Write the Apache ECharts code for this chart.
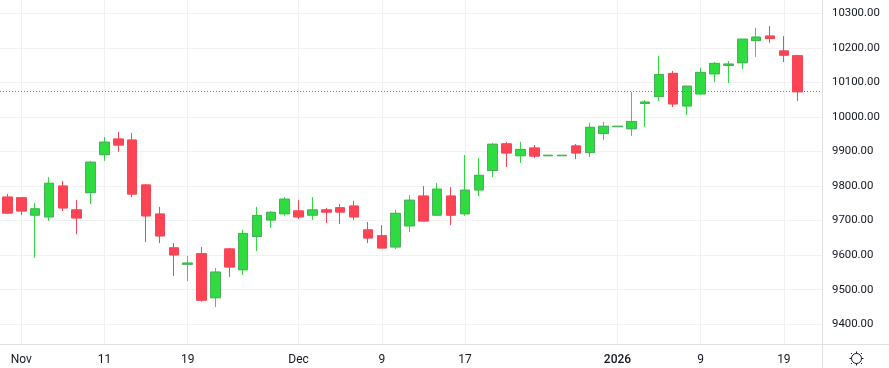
<!DOCTYPE html>
<html>
<head>
<meta charset="utf-8">
<style>
	html, body { margin: 0; padding: 0; background: #fff; }
	#chart { width: 889px; height: 368px; }
</style>
<script src="https://cdn.jsdelivr.net/npm/echarts@6/dist/echarts.min.js"></script>
</head>
<body>
<div id="chart"></div>
<script>
var dates = ['10-31','11-03','11-04','11-05','11-06','11-07','11-10','11-11','11-12','11-13','11-14','11-17','11-18','11-19','11-20','11-21','11-24','11-25','11-26','11-27','11-28','12-01','12-02','12-03','12-04','12-05','12-08','12-09','12-10','12-11','12-12','12-15','12-16','12-17','12-18','12-19','12-22','12-23','12-24','12-25','12-26','12-29','12-30','12-31','01-01','01-02','01-05','01-06','01-07','01-08','01-09','01-12','01-13','01-14','01-15','01-16','01-19','01-20'];
var opens = [9768,9766,9716,9711,9800,9731,9781,9891,9936,9933,9803,9719,9621,9574,9604,9477,9618,9558,9654,9702,9720,9728,9716,9731,9737,9742,9673,9656,9624,9685,9771,9716,9771,9720,9789,9845,9922,9888,9910,9888,9888,9916,9897,9952,9972,9966,10039,10059,10126,10032,10067,10125,10149,10157,10221,10234,10191,10177];
var closes = [9722,9728,9734,9808,9737,9708,9869,9927,9919,9777,9714,9656,9601,9577,9470,9551,9566,9663,9715,9724,9762,9711,9731,9725,9725,9711,9650,9621,9721,9759,9699,9791,9716,9788,9831,9921,9896,9906,9887,9889,9889,9896,9970,9973,9973,9987,10043,10123,10038,10089,10129,10155,10153,10225,10231,10227,10179,10073];
var lows = [9721,9716,9592,9699,9728,9661,9748,9873,9899,9768,9638,9635,9540,9525,9465,9450,9537,9543,9612,9679,9714,9705,9702,9693,9690,9702,9635,9620,9618,9667,9698,9714,9687,9714,9771,9826,9855,9867,9881,9888,9888,9878,9884,9933,9972,9945,9971,10046,10029,10006,10064,10101,10098,10139,10174,10214,10159,10046];
var highs = [9777,9768,9751,9826,9815,9760,9873,9942,9957,9954,9806,9740,9635,9598,9624,9563,9621,9673,9740,9728,9768,9760,9768,9737,9748,9757,9696,9687,9731,9774,9800,9809,9797,9890,9881,9925,9928,9928,9919,9889,9889,9922,9983,9986,9973,10072,10049,10177,10133,10090,10142,10159,10162,10226,10258,10263,10234,10177];

var xTickDates = ['11-03','11-11','11-19','12-01','12-09','12-17','01-01','01-09','01-19'];
var xTickLabels = ['Nov','11','19','Dec','9','17','2026','9','19'];
var yTicks = [9400,9500,9600,9700,9800,9900,10000,10100,10200,10300];
var lastPrice = 10073;

var green = '#2fdc40', greenEdge = '#4caf5c', red = '#fc4554';
var gridColor = '#f1f1f3', edgeColor = '#e0e1e5', textColor = '#131722';

var xTicks = xTickDates.map(function (d) { return dates.indexOf(d); });

// full candle, its border colour is only seen on the wick
var wickData = dates.map(function (d, i) {
	return [i, opens[i], closes[i], lows[i], highs[i]];
});
// same candle without a wick, on top, for the darker green outline
var bodyData = dates.map(function (d, i) {
	return [i, opens[i], closes[i], Math.min(opens[i], closes[i]), Math.max(opens[i], closes[i])];
});

// small sun icon in the bottom right corner
function iconLine(x1, y1, x2, y2) {
	return { type: 'line', silent: true, shape: { x1: x1, y1: y1, x2: x2, y2: y2 }, style: { stroke: textColor, lineWidth: 1 } };
}

var chart = echarts.init(document.getElementById('chart'));
chart.setOption({
	backgroundColor: '#fff',
	animation: false,
	grid: { left: 0, top: 0, width: 822, height: 344 },
	xAxis: {
		type: 'value',
		min: -0.534,
		max: 58.75,
		axisLine: { show: true, onZero: false, lineStyle: { color: edgeColor, width: 1 } },
		axisTick: { show: false, customValues: xTicks },
		splitLine: { show: true, lineStyle: { color: gridColor, width: 1 } },
		axisLabel: {
			customValues: xTicks,
			hideOverlap: false,
			showMinLabel: true,
			showMaxLabel: true,
			margin: 10,
			color: textColor,
			fontFamily: 'Roboto',
			fontSize: 12,
			formatter: function (v) {
				var label = xTickLabels[xTicks.indexOf(v)];
				return label === '2026' ? '{year|' + label + '}' : label;
			},
			rich: { year: { fontFamily: 'Roboto', fontSize: 12, fontWeight: 500, color: textColor } }
		}
	},
	yAxis: {
		type: 'value',
		position: 'right',
		min: 9343,
		max: 10338.5,
		scale: true,
		axisLine: { show: true, onZero: false, lineStyle: { color: edgeColor, width: 1 } },
		axisTick: { show: false, customValues: yTicks },
		splitLine: { show: true, lineStyle: { color: gridColor, width: 1 } },
		axisLabel: {
			customValues: yTicks,
			align: 'left',
			margin: 10,
			padding: [4, 0, 0, 0],
			color: textColor,
			fontFamily: 'Roboto',
			fontSize: 11.4,
			formatter: function (v) { return v.toFixed(2); }
		}
	},
	series: [
		{
			type: 'candlestick',
			data: wickData,
			encode: { x: 0, y: [1, 2, 3, 4] },
			barWidth: 10,
			itemStyle: { color: green, color0: red, borderColor: green, borderColor0: red, borderWidth: 1 },
			markLine: {
				silent: true,
				symbol: 'none',
				label: { show: false },
				lineStyle: { color: red, type: [1, 2], width: 1 },
				data: [{ yAxis: lastPrice }]
			}
		},
		{
			type: 'candlestick',
			data: bodyData,
			encode: { x: 0, y: [1, 2, 3, 4] },
			barWidth: 10,
			itemStyle: { color: green, color0: red, borderColor: greenEdge, borderColor0: red, borderWidth: 1 }
		}
	],
	graphic: [
		{ type: 'line', silent: true, shape: { x1: 822.5, y1: 0, x2: 822.5, y2: 368 }, style: { stroke: edgeColor, lineWidth: 1 } },
		{ type: 'line', silent: true, shape: { x1: 0, y1: 344.5, x2: 889, y2: 344.5 }, style: { stroke: edgeColor, lineWidth: 1 } },
		{ type: 'circle', silent: true, shape: { cx: 856.5, cy: 358.5, r: 5 }, style: { fill: 'none', stroke: textColor, lineWidth: 1 } },
		iconLine(856.5, 351.5, 856.5, 353.5),
		iconLine(856.5, 363.5, 856.5, 365.5),
		iconLine(849.5, 358.5, 851.5, 358.5),
		iconLine(861.5, 358.5, 863.5, 358.5),
		iconLine(852, 354, 851, 353),
		iconLine(861, 354, 862, 353),
		iconLine(852, 363, 851, 364),
		iconLine(861, 363, 862, 364)
	]
});
</script>
</body>
</html>
